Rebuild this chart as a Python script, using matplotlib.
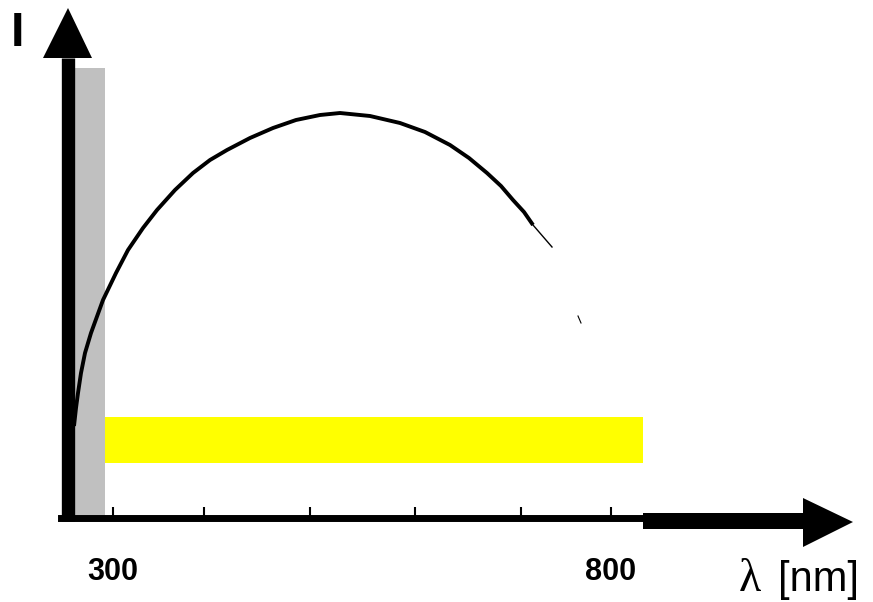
import numpy as np
import matplotlib
matplotlib.use("Agg")
import matplotlib.pyplot as plt
from matplotlib.patches import Polygon, Rectangle

# spectrum curve, wavelength [nm] vs intensity (arbitrary units)
wl_curve = [261, 263, 265, 268, 272, 278, 290, 303, 315, 330, 344, 362, 380, 397,
            414, 437, 460, 483, 507, 527, 557, 587, 612, 637, 656, 674, 688, 700, 711, 720]
I_curve = [92, 110, 125, 145, 165, 185, 218, 245, 268, 290, 308, 328, 345, 358,
           368, 380, 390, 398, 403, 405, 402, 395, 386, 373, 360, 345, 332, 318, 306, 293]
tail_wl = [720, 739]
tail_I = [293, 271]
frag_wl = [765, 768]
frag_I = [202, 195]

uv_band = (261, 292, 450)        # x0, x1, top
vis_band = (292, 830, 55, 101)   # x0, x1, y0, y1

tick_pos = [300, 391, 497, 602, 708, 798]
tick_lab = ["300", "", "", "", "", "800"]

fig = plt.figure(figsize=(8.73, 6.02), dpi=100)
ax = fig.add_axes([0, 0, 1, 1])
ax.set_xlim(187, 1060)
ax.set_ylim(-84, 518)

for s in ["top", "right"]:
    ax.spines[s].set_visible(False)
ax.spines["bottom"].set_position(("data", 0))
ax.spines["bottom"].set_bounds(248, 830)
ax.spines["bottom"].set_linewidth(5.0)
ax.spines["left"].set_position(("data", 254.5))
ax.spines["left"].set_bounds(-3, 460)
ax.spines["left"].set_linewidth(9.6)
ax.spines["left"].set_capstyle("butt")

ax.set_yticks([])
ax.set_xticks(tick_pos)
ax.set_xticklabels(tick_lab, fontsize=22, fontweight="bold", family="Liberation Sans")
ax.tick_params(axis="x", direction="in", length=8, width=1.5, pad=28)

# bands
ax.add_patch(Rectangle((uv_band[0], 3), uv_band[1] - uv_band[0], uv_band[2] - 3,
                       facecolor="#c0c0c0", edgecolor="none", zorder=1))
ax.add_patch(Rectangle((vis_band[0], vis_band[2]), vis_band[1] - vis_band[0],
                       vis_band[3] - vis_band[2], facecolor="#ffff00", edgecolor="none", zorder=1))

# curve
ax.plot(wl_curve, I_curve, color="black", lw=2.8, solid_capstyle="butt",
        solid_joinstyle="round", zorder=3)
ax.plot(tail_wl, tail_I, color="black", lw=1.0, zorder=3)
ax.plot(frag_wl, frag_I, color="black", lw=0.8, zorder=3)

# axis arrows
ax.add_patch(Rectangle((830, -11), 160, 16, facecolor="black", edgecolor="none",
                       clip_on=False, zorder=4))
ax.add_patch(Polygon([[990, 20], [990, -29], [1040, -4]], closed=True,
                     facecolor="black", edgecolor="none", clip_on=False, zorder=4))
ax.add_patch(Polygon([[230, 460], [279, 460], [255, 510]], closed=True,
                     facecolor="black", edgecolor="none", clip_on=False, zorder=4))

ax.text(198, 485, "I", fontsize=35, fontweight="bold", family="Liberation Sans",
        ha="left", va="center")
ax.text(948, -62, "λ", fontsize=33, family=["Liberation Serif", "DejaVu Serif"],
        ha="right", va="center")
ax.text(1046, -62, "[nm]", fontsize=30, family="Liberation Sans",
        ha="right", va="center")

fig.savefig("out.png", dpi=100)
